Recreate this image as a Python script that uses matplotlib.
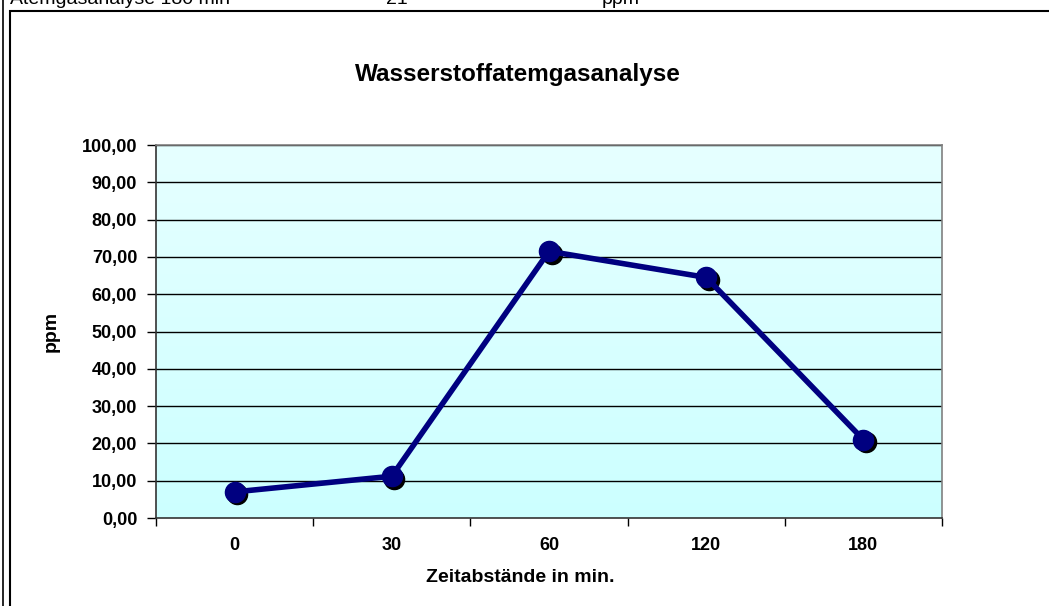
import numpy as np
import matplotlib
matplotlib.use("Agg")
import matplotlib.pyplot as plt
import matplotlib.transforms as mtransforms
from matplotlib.patches import Rectangle
from matplotlib.lines import Line2D

plt.rcParams['font.family'] = ['Liberation Sans', 'DejaVu Sans']

# data
zeit = ['0', '30', '60', '120', '180']
ppm = [7.0, 11.2, 71.5, 64.5, 21.0]
y_ticks = [0, 10, 20, 30, 40, 50, 60, 70, 80, 90, 100]

W, H = 1049, 606
fig = plt.figure(figsize=(W / 100, H / 100), dpi=100)
fig.patch.set_facecolor('white')

# plot area in pixels: left 156, right 942, top 145, bottom 518
ax = fig.add_axes([156 / W, 1 - 518 / H, (942 - 156) / W, (518 - 145) / H])

# gradient background (lighter at top)
grad = np.linspace(0, 1, 256).reshape(-1, 1)
cmap = matplotlib.colors.LinearSegmentedColormap.from_list('bg', ['#E6FFFF', '#CCFFFF'])
ax.imshow(grad, aspect='auto', cmap=cmap, extent=[0, 1, 0, 1],
          transform=ax.transAxes, zorder=0)

x = np.arange(len(zeit))
ax.set_xlim(-0.5, len(zeit) - 0.5)
ax.set_ylim(0, 100)

for v in y_ticks[1:]:
    ax.axhline(v, color='black', lw=1, zorder=1)

# shadow for markers
shadow = mtransforms.offset_copy(ax.transData, fig=fig, x=2.5, y=-2.5, units='dots')
ax.plot(x, ppm, 'o', color='black', ms=14.5, transform=shadow, zorder=2)
ax.plot(x, ppm, '-', color='#000080', lw=4, zorder=3)
ax.plot(x, ppm, 'o', color='#000080', ms=14.5, zorder=4)

ax.set_yticks(y_ticks)
ax.set_yticklabels(['%d,00' % v for v in y_ticks], fontsize=13, fontweight='bold')
ax.set_xticks(np.arange(-0.5, len(zeit)))
ax.set_xticklabels([])
ax.set_xticks(x, minor=True)
ax.set_xticklabels(zeit, minor=True, fontsize=13, fontweight='bold')
ax.tick_params(axis='x', which='major', length=6, width=1, direction='out')
ax.tick_params(axis='x', which='minor', length=0, pad=14)
ax.tick_params(axis='y', length=6.5, width=1, direction='out', pad=7)

for s in ['left', 'bottom']:
    ax.spines[s].set_color('#333333')
    ax.spines[s].set_linewidth(1.2)
for s in ['top', 'right']:
    ax.spines[s].set_color('#808080')
    ax.spines[s].set_linewidth(1.2)

ax.set_ylabel('ppm', fontsize=14, fontweight='bold', va='center')
ax.yaxis.set_label_coords((51 - 156) / 786, 0.5)
ax.set_xlabel('Zeitabstände in min.', fontsize=14, fontweight='bold', va='center')
ax.xaxis.set_label_coords((520 - 156) / 786, (518 - 577) / 373)

fig.text(518 / W, 1 - 74 / H, 'Wasserstoffatemgasanalyse', ha='center', va='center',
         fontsize=17.5, fontweight='bold')

# chart border and sheet decorations
fig.patches.append(Rectangle((10 / W, -0.1), 1.2, 1 - 11 / H + 0.1,
                             transform=fig.transFigure, fill=False,
                             edgecolor='black', lw=1.5, zorder=0))
fig.lines.append(Line2D([3 / W, 3 / W], [0, 1], transform=fig.transFigure,
                        color='black', lw=1.2))
fig.text(10 / W, 1 - 4 / H, 'Atemgasanalyse 180 min', fontsize=14, va='baseline')
fig.text(386 / W, 1 - 4 / H, '21', fontsize=14, va='baseline')
fig.text(602 / W, 1 - 4 / H, 'ppm', fontsize=14, va='baseline')

fig.savefig('out.png', dpi=100)
